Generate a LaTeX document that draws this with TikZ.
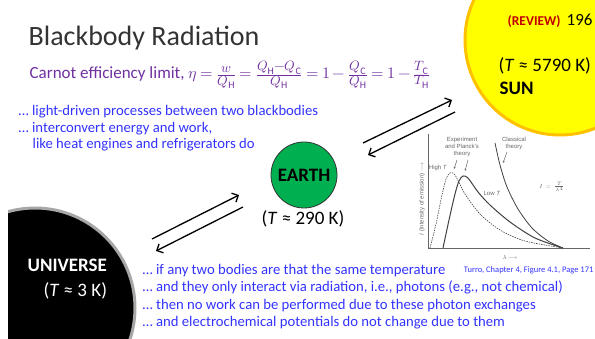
\documentclass[tikz,border=0pt]{standalone}
\usepackage{fontspec}
\usepackage{unicode-math}
\setmainfont{Carlito}
\setsansfont{Liberation Sans}
\setmathfont{Latin Modern Math}
\usetikzlibrary{arrows.meta}
\DeclareMathSizes{17}{16}{13.5}{10}
\definecolor{slideblue}{RGB}{51,51,255}
\definecolor{carnotpurple}{RGB}{112,48,160}
\definecolor{sunyellow}{RGB}{255,255,0}
\definecolor{sunorange}{RGB}{255,192,0}
\definecolor{earthgreen}{RGB}{0,176,80}
\definecolor{reviewred}{RGB}{192,0,0}
\tikzset{
    bluetext/.style={anchor=base west, inner sep=0pt, text=slideblue, font=\fontsize{14.7}{17}\selectfont},
    bodylabel/.style={anchor=base west, inner sep=0pt, font=\fontsize{19}{22}\selectfont},
    bodyname/.style={bodylabel, font=\bfseries\fontsize{19}{22}\selectfont},
    plotlabel/.style={inner sep=0pt, align=center, text=black!60, font=\sffamily\fontsize{6}{6.8}\selectfont},
    plotcurve/.style={black!75, line width=0.6pt},
    pointer/.style={black!60, line width=0.5pt, -{Stealth[length=2.5pt, width=2pt]}},
}
\begin{document}
\begin{tikzpicture}[x=1pt, y=-1pt, >={Straight Barb[length=5pt, width=10pt]}, line width=1.3pt]
    \useasboundingbox (0,0) rectangle (595,339);
    % Sun and universe
    \begin{scope}
        \clip (0,0) rectangle (595,339);
        \filldraw[fill=sunyellow, draw=sunorange, line width=3pt] (560,40) circle[radius=95pt];
        \clip (8,0) rectangle (595,339);
        \filldraw[fill=black, draw=gray!70, line width=3pt] (35,308) circle[radius=100pt];
    \end{scope}
    % Title
    \node[anchor=base west, inner sep=0pt, text=black!80, font=\fontsize{28}{34}\selectfont] (title) at (28,46) {Blackbody Radiation};
    % Carnot limit
    \node[anchor=base west, inner sep=0pt, text=carnotpurple, font=\fontsize{17}{20}\selectfont] (carnot) at (29,79)
        {Carnot efficiency limit, \thickmuskip=4mu \medmuskip=3mu
        $\eta=\frac{w}{Q_{\mathrm{H}}}=\frac{Q_{\mathrm{H}}-Q_{\mathrm{C}}}{Q_{\mathrm{H}}}=1-\frac{Q_{\mathrm{C}}}{Q_{\mathrm{H}}}=1-\frac{T_{\mathrm{C}}}{T_{\mathrm{H}}}$};
    % Top remarks
    \node[bluetext] (light) at (18,116) {… light-driven processes between two blackbodies};
    \node[bluetext] (convert) at (18,132.5) {… interconvert energy and work,};
    \node[bluetext] (engines) at (32,149) {like heat engines and refrigerators do};
    % Sun labels
    \node[anchor=base west, inner sep=0pt, text=reviewred, font=\bfseries\fontsize{13.5}{15}\selectfont] (review) at (507,26) {(REVIEW)};
    \node[anchor=base west, inner sep=0pt, font=\fontsize{17}{20}\selectfont] (page) at (566,26) {196};
    \node[bodylabel] (suntemp) at (498,72) {(\textit{T} ≈ 5790 K)};
    \node[bodyname] (sun) at (499,95) {SUN};
    % Earth
    \node[circle, fill=earthgreen, draw=black!80, line width=0.8pt, minimum size=66pt, font=\bfseries\fontsize{19}{22}\selectfont] (earth) at (304,175) {EARTH};
    \node[bodylabel, anchor=base] (earthtemp) at (303,225) {(\textit{T} ≈ 290 K)};
    % Universe labels
    \node[bodyname, text=white] (universe) at (27,272) {UNIVERSE};
    \node[bodylabel, text=white] (unitemp) at (43,297) {(\textit{T} ≈ 3 K)};
    % Exchange arrows
    \coordinate (ue1) at (152,239); \coordinate (ue2) at (239,195);
    \coordinate (eu1) at (243,207); \coordinate (eu2) at (156,251);
    \coordinate (es1) at (363,143); \coordinate (es2) at (452,100);
    \coordinate (se1) at (455,112); \coordinate (se2) at (368,155);
    \draw[->] (ue1) -- (ue2);
    \draw[->] (eu1) -- (eu2);
    \draw[->] (es1) -- (es2);
    \draw[->] (se1) -- (se2);
    % Plot axes
    \coordinate (origin) at (428,248);
    \coordinate (ytop) at (428,134);
    \coordinate (xend) at (590,248);
    \draw[black!60, line width=0.6pt] (ytop) -- (origin) -- (xend);
    % Plot curves
    \draw[plotcurve, dashed, dash pattern=on 1.5pt off 1pt] plot[smooth] coordinates {(430,248) (436,224) (442,195) (446,179) (450,173) (455,175) (465,194) (480,214) (500,230) (525,241) (563,248)};
    \draw[plotcurve, line width=1pt] plot[smooth] coordinates {(443,248) (449,220) (455,194) (459,181) (463,176) (468,178) (478,192) (490,205) (510,222) (535,238) (563,248)};
    \draw[plotcurve, line width=0.8pt] plot[smooth] coordinates {(495,143) (500,165) (507,187) (518,209) (532,228) (548,241) (563,248)};
    % Plot labels
    \node[plotlabel] (experiment) at (462,147) {Experiment\\and Planck's\\theory};
    \node[plotlabel] (classical) at (514,143.5) {Classical\\theory};
    \node[plotlabel] (hight) at (438,168) {High \textit{T}};
    \node[plotlabel] (lowt) at (492,193) {Low \textit{T}};
    \node[plotlabel] (law) at (552,187) {$I \;=\; \frac{T}{\lambda^4}$};
    \node[plotlabel, rotate=90] (ylabel) at (422,199) {\textit{I} (Intensity of emission) $\longrightarrow$};
    \node[plotlabel] (xlabel) at (510,257) {$\lambda$ $\longrightarrow$};
    % Pointers
    \coordinate (p1) at (457,160); \coordinate (q1) at (454,169);
    \coordinate (p2) at (468,160); \coordinate (q2) at (465,171);
    \coordinate (p3) at (507,152); \coordinate (q3) at (503,163);
    \draw[pointer] (p1) -- (q1);
    \draw[pointer] (p2) -- (q2);
    \draw[pointer] (p3) -- (q3);
    % Bottom remarks
    \foreach \txt [count=\i] in {{… if any two bodies are that the same temperature},
        {… and they only interact via radiation, i.e., photons (e.g., not chemical)},
        {… then no work can be performed due to these photon exchanges},
        {… and electrochemical potentials do not change due to them}} {
        \node[bluetext] (remark\i) at (142,256.5+17.6*\i) {\txt};
    }
    % Source
    \node[anchor=base east, inner sep=0pt, text=slideblue, font=\fontsize{8.5}{9}\selectfont] (source) at (594,273) {Turro, Chapter 4, Figure 4.1, Page 171};
\end{tikzpicture}
\end{document}
